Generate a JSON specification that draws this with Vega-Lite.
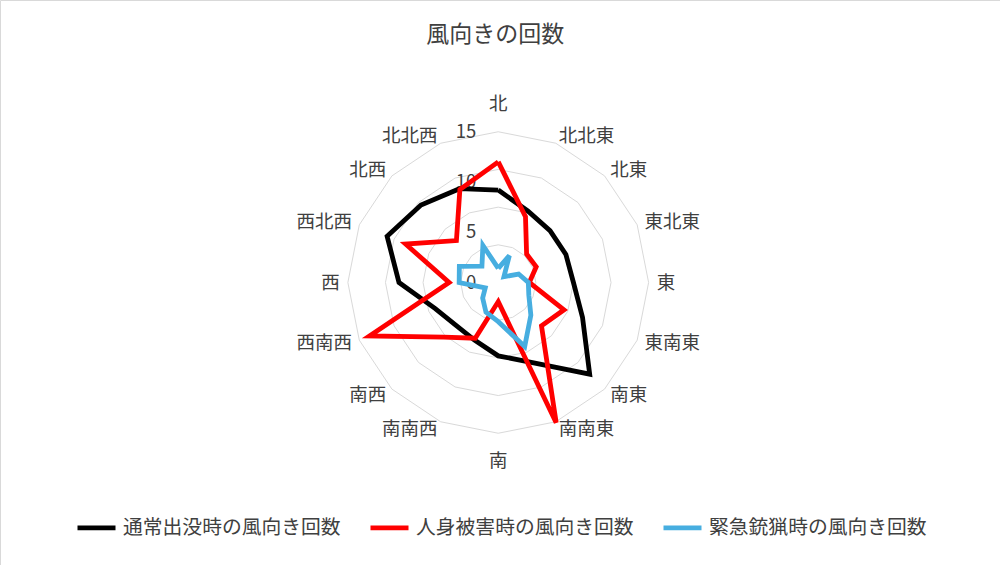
{
  "$schema": "https://vega.github.io/schema/vega-lite/v6.json",
  "width": 1000,
  "height": 565,
  "autosize": "none",
  "padding": 0,
  "background": "white",
  "config": {
    "view": {"stroke": "#D9D9D9"},
    "font": "Noto Sans CJK JP",
    "text": {"font": "Noto Sans CJK JP", "color": "#404040"}
  },
  "datasets": {
    "rings": [
      {"level": 3.75, "k": [0,1,2,3,4,5,6,7,8,9,10,11,12,13,14,15,16]},
      {"level": 7.5, "k": [0,1,2,3,4,5,6,7,8,9,10,11,12,13,14,15,16]},
      {"level": 11.25, "k": [0,1,2,3,4,5,6,7,8,9,10,11,12,13,14,15,16]},
      {"level": 15, "k": [0,1,2,3,4,5,6,7,8,9,10,11,12,13,14,15,16]}
    ],
    "dirs": [
      {"dir": "北", "k": 0}, {"dir": "北北東", "k": 1}, {"dir": "北東", "k": 2}, {"dir": "東北東", "k": 3},
      {"dir": "東", "k": 4}, {"dir": "東南東", "k": 5}, {"dir": "南東", "k": 6}, {"dir": "南南東", "k": 7},
      {"dir": "南", "k": 8}, {"dir": "南南西", "k": 9}, {"dir": "南西", "k": 10}, {"dir": "西南西", "k": 11},
      {"dir": "西", "k": 12}, {"dir": "西北西", "k": 13}, {"dir": "北西", "k": 14}, {"dir": "北北西", "k": 15}
    ],
    "ticks": [{"tick": "0", "v": 0}, {"tick": "5", "v": 5}, {"tick": "10", "v": 10}, {"tick": "15", "v": 15}],
    "titles": [{"label": "風向きの回数"}],
    "series": [
      {"series": "通常出没時の風向き回数", "dir": "北", "k": 0, "value": 9.2},
      {"series": "通常出没時の風向き回数", "dir": "北北東", "k": 1, "value": 7.7},
      {"series": "通常出没時の風向き回数", "dir": "北東", "k": 2, "value": 7.3},
      {"series": "通常出没時の風向き回数", "dir": "東北東", "k": 3, "value": 7.3},
      {"series": "通常出没時の風向き回数", "dir": "東", "k": 4, "value": 7.5},
      {"series": "通常出没時の風向き回数", "dir": "東南東", "k": 5, "value": 9.1},
      {"series": "通常出没時の風向き回数", "dir": "南東", "k": 6, "value": 12.9},
      {"series": "通常出没時の風向き回数", "dir": "南南東", "k": 7, "value": 8.6},
      {"series": "通常出没時の風向き回数", "dir": "南", "k": 8, "value": 7.3},
      {"series": "通常出没時の風向き回数", "dir": "南南西", "k": 9, "value": 6.2},
      {"series": "通常出没時の風向き回数", "dir": "南西", "k": 10, "value": 6.0},
      {"series": "通常出没時の風向き回数", "dir": "西南西", "k": 11, "value": 6.8},
      {"series": "通常出没時の風向き回数", "dir": "西", "k": 12, "value": 9.9},
      {"series": "通常出没時の風向き回数", "dir": "西北西", "k": 13, "value": 12.0},
      {"series": "通常出没時の風向き回数", "dir": "北西", "k": 14, "value": 10.9},
      {"series": "通常出没時の風向き回数", "dir": "北北西", "k": 15, "value": 10.1},
      {"series": "通常出没時の風向き回数", "dir": "北", "k": 16, "value": 9.2},
      {"series": "人身被害時の風向き回数", "dir": "北", "k": 0, "value": 12.0},
      {"series": "人身被害時の風向き回数", "dir": "北北東", "k": 1, "value": 7.1},
      {"series": "人身被害時の風向き回数", "dir": "北東", "k": 2, "value": 4.0},
      {"series": "人身被害時の風向き回数", "dir": "東北東", "k": 3, "value": 4.1},
      {"series": "人身被害時の風向き回数", "dir": "東", "k": 4, "value": 3.1},
      {"series": "人身被害時の風向き回数", "dir": "東南東", "k": 5, "value": 7.1},
      {"series": "人身被害時の風向き回数", "dir": "南東", "k": 6, "value": 6.1},
      {"series": "人身被害時の風向き回数", "dir": "南南東", "k": 7, "value": 15.1},
      {"series": "人身被害時の風向き回数", "dir": "南", "k": 8, "value": 1.9},
      {"series": "人身被害時の風向き回数", "dir": "南南西", "k": 9, "value": 6.0},
      {"series": "人身被害時の風向き回数", "dir": "南西", "k": 10, "value": 7.7},
      {"series": "人身被害時の風向き回数", "dir": "西南西", "k": 11, "value": 13.9},
      {"series": "人身被害時の風向き回数", "dir": "西", "k": 12, "value": 4.9},
      {"series": "人身被害時の風向き回数", "dir": "西北西", "k": 13, "value": 10.0},
      {"series": "人身被害時の風向き回数", "dir": "北西", "k": 14, "value": 5.9},
      {"series": "人身被害時の風向き回数", "dir": "北北西", "k": 15, "value": 10.0},
      {"series": "人身被害時の風向き回数", "dir": "北", "k": 16, "value": 12.0},
      {"series": "緊急銃猟時の風向き回数", "dir": "北", "k": 0, "value": 1.4},
      {"series": "緊急銃猟時の風向き回数", "dir": "北北東", "k": 1, "value": 2.9},
      {"series": "緊急銃猟時の風向き回数", "dir": "北東", "k": 2, "value": 0.8},
      {"series": "緊急銃猟時の風向き回数", "dir": "東北東", "k": 3, "value": 2.2},
      {"series": "緊急銃猟時の風向き回数", "dir": "東", "k": 4, "value": 3.0},
      {"series": "緊急銃猟時の風向き回数", "dir": "東南東", "k": 5, "value": 3.3},
      {"series": "緊急銃猟時の風向き回数", "dir": "南東", "k": 6, "value": 4.6},
      {"series": "緊急銃猟時の風向き回数", "dir": "南南東", "k": 7, "value": 6.9},
      {"series": "緊急銃猟時の風向き回数", "dir": "南", "k": 8, "value": 3.9},
      {"series": "緊急銃猟時の風向き回数", "dir": "南南西", "k": 9, "value": 3.2},
      {"series": "緊急銃猟時の風向き回数", "dir": "南西", "k": 10, "value": 2.2},
      {"series": "緊急銃猟時の風向き回数", "dir": "西南西", "k": 11, "value": 1.4},
      {"series": "緊急銃猟時の風向き回数", "dir": "西", "k": 12, "value": 3.9},
      {"series": "緊急銃猟時の風向き回数", "dir": "西北西", "k": 13, "value": 4.2},
      {"series": "緊急銃猟時の風向き回数", "dir": "北西", "k": 14, "value": 2.3},
      {"series": "緊急銃猟時の風向き回数", "dir": "北北西", "k": 15, "value": 4.0},
      {"series": "緊急銃猟時の風向き回数", "dir": "北", "k": 16, "value": 1.4}
    ]
  },
  "encoding": {
    "x": {"field": "x", "type": "quantitative", "scale": {"domain": [-49.70, 50.05], "nice": false, "zero": false}, "axis": null},
    "y": {"field": "y", "type": "quantitative", "scale": {"domain": [-28.11, 28.11], "nice": false, "zero": false}, "axis": null}
  },
  "layer": [
    {
      "data": {"name": "rings"},
      "transform": [
        {"flatten": ["k"]},
        {"calculate": "datum.level * sin(datum.k * PI / 8)", "as": "x"},
        {"calculate": "datum.level * cos(datum.k * PI / 8)", "as": "y"}
      ],
      "mark": {"type": "line", "stroke": "#D9D9D9", "strokeWidth": 1},
      "encoding": {
        "detail": {"field": "level", "type": "nominal"},
        "order": {"field": "k", "type": "quantitative"}
      }
    },
    {
      "data": {"name": "ticks"},
      "transform": [
        {"calculate": "-2.2", "as": "x"},
        {"calculate": "datum.v", "as": "y"}
      ],
      "mark": {"type": "text", "align": "right", "baseline": "middle", "fontSize": 18.5},
      "encoding": {"text": {"field": "tick"}}
    },
    {
      "data": {"name": "series"},
      "transform": [
        {"calculate": "datum.value * sin(datum.k * PI / 8)", "as": "x"},
        {"calculate": "datum.value * cos(datum.k * PI / 8)", "as": "y"}
      ],
      "mark": {"type": "line", "strokeWidth": 4.8, "strokeJoin": "miter"},
      "encoding": {
        "color": {
          "field": "series", "type": "nominal",
          "scale": {"domain": ["通常出没時の風向き回数", "人身被害時の風向き回数", "緊急銃猟時の風向き回数"], "range": ["#000000", "#FF0000", "#47AEE0"]},
          "legend": {
            "orient": "none", "legendX": 75, "legendY": 506, "direction": "horizontal", "title": null,
            "symbolType": "stroke", "symbolSize": 1444, "symbolStrokeWidth": 4.8,
            "labelFontSize": 19.8, "labelFont": "Noto Sans CJK JP", "labelColor": "#404040",
            "columnPadding": 19, "labelOffset": 5, "labelLimit": 400
          }
        },
        "order": {"field": "k", "type": "quantitative"}
      }
    },
    {
      "data": {"name": "dirs"},
      "transform": [
        {"filter": "datum.k >= 1 && datum.k <= 7"},
        {"calculate": "15.8 * sin(datum.k * PI / 8)", "as": "x"},
        {"calculate": "15.8 * cos(datum.k * PI / 8)", "as": "y"}
      ],
      "mark": {"type": "text", "align": "left", "baseline": "middle", "fontSize": 18.5},
      "encoding": {"text": {"field": "dir"}}
    },
    {
      "data": {"name": "dirs"},
      "transform": [
        {"filter": "datum.k >= 9"},
        {"calculate": "15.8 * sin(datum.k * PI / 8)", "as": "x"},
        {"calculate": "15.8 * cos(datum.k * PI / 8)", "as": "y"}
      ],
      "mark": {"type": "text", "align": "right", "baseline": "middle", "fontSize": 18.5},
      "encoding": {"text": {"field": "dir"}}
    },
    {
      "data": {"name": "dirs"},
      "transform": [
        {"filter": "datum.k == 0 || datum.k == 8"},
        {"calculate": "17.8 * sin(datum.k * PI / 8)", "as": "x"},
        {"calculate": "17.8 * cos(datum.k * PI / 8)", "as": "y"}
      ],
      "mark": {"type": "text", "align": "center", "baseline": "middle", "fontSize": 18.5},
      "encoding": {"text": {"field": "dir"}}
    },
    {
      "data": {"name": "titles"},
      "transform": [
        {"calculate": "-0.3", "as": "x"},
        {"calculate": "24.6", "as": "y"}
      ],
      "mark": {"type": "text", "align": "center", "baseline": "middle", "fontSize": 23},
      "encoding": {"text": {"field": "label"}}
    }
  ]
}
